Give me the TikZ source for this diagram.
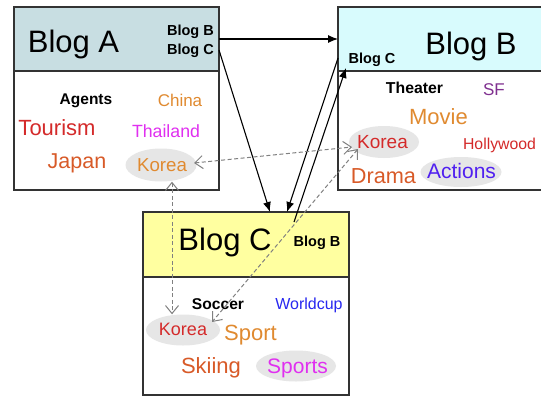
\documentclass[tikz,border=0pt]{standalone}
\usepackage{fontspec}
\setmainfont{Liberation Sans}
\usetikzlibrary{shapes.geometric,arrows.meta,calc}
\definecolor{hdrA}{HTML}{C8DEE2}
\definecolor{hdrB}{HTML}{D8FBFD}
\definecolor{hdrC}{HTML}{FFFFA0}
\definecolor{corange}{HTML}{E08A30}
\definecolor{cred}{HTML}{D42A2A}
\definecolor{cmag}{HTML}{E030F0}
\definecolor{credor}{HTML}{D85A28}
\definecolor{cpurple}{HTML}{803090}
\definecolor{cviolet}{HTML}{5020F0}
\definecolor{cblue}{HTML}{2828F0}
\definecolor{cbubble}{HTML}{E6E6E6}
\definecolor{cdash}{HTML}{808080}
\definecolor{cborder}{HTML}{333333}
\tikzset{
  boxpart/.style={draw=cborder, line width=1.3pt, inner sep=0pt, outer sep=0pt, rectangle},
  title/.style={anchor=base, inner sep=0pt, font=\fontsize{31}{31}\selectfont},
  tag/.style={inner sep=0pt, font=\fontsize{14.5}{14.5}\selectfont\bfseries},
  word/.style={anchor=base, inner sep=0pt},
  bubble/.style={ellipse, fill=cbubble, draw=none, inner sep=0pt},
  link/.style={draw=black, line width=1.1pt, -{Latex[length=10pt,width=8pt]}},
  rel/.style={draw=cdash, line width=1pt, dash pattern=on 4pt off 2.5pt,
              {Straight Barb[length=8pt,width=13pt]}-{Straight Barb[length=8pt,width=13pt]}}
}
\begin{document}
\begin{tikzpicture}[x=1pt,y=-1pt]
\useasboundingbox (0,0) rectangle (541,397);
\fill[white] (0,0) rectangle (541,397);

% ---- Blog A ----
\node[boxpart, fill=hdrA, minimum width=205pt, minimum height=64pt] (hA) at (116.5,39) {};
\node[boxpart, fill=white, minimum width=205pt, minimum height=119pt] (bA) at (116.5,130.5) {};
% ---- Blog B ----
\node[boxpart, fill=hdrB, minimum width=207pt, minimum height=64pt] (hB) at (441.5,39) {};
\node[boxpart, fill=white, minimum width=207pt, minimum height=119pt] (bB) at (441.5,130.5) {};
% ---- Blog C ----
\node[boxpart, fill=hdrC, minimum width=206pt, minimum height=65pt] (hC) at (246,244.5) {};
\node[boxpart, fill=white, minimum width=206pt, minimum height=118pt] (bC) at (246,336) {};

% bubbles
\node[bubble, minimum width=71pt, minimum height=33pt] (eA) at (161,165) {};
\node[bubble, minimum width=70pt, minimum height=32pt] (eB) at (384,142) {};
\node[bubble, minimum width=81pt, minimum height=30pt] (eB2) at (461,172) {};
\node[bubble, minimum width=74pt, minimum height=31pt] (eC) at (183,330) {};
\node[bubble, minimum width=80pt, minimum height=31pt] (eC2) at (296,366) {};

% titles
\node[title] (tA) at (73.5,52) {Blog A};
\node[title] (tB) at (471,54) {Blog B};
\node[title] (tC) at (225,250) {Blog C};

% tags
\node[tag, anchor=base east] (aB) at (214,35) {Blog B};
\node[tag, anchor=base east] (aC) at (214,54) {Blog C};
\node[tag, anchor=base] (bCt) at (372,63) {Blog C};
\node[tag, anchor=base] (cBt) at (317,246) {Blog B};

% words in Blog A
\node[word, font=\fontsize{15.5}{15.5}\selectfont\bfseries] (wAg) at (86,104) {Agents};
\node[word, font=\fontsize{17}{17}\selectfont, text=corange] (wCh) at (180,106) {China};
\node[word, font=\fontsize{22}{22}\selectfont, text=cred] (wTo) at (57,135) {Tourism};
\node[word, font=\fontsize{17.7}{17.7}\selectfont, text=cmag] (wTh) at (166,137) {Thailand};
\node[word, font=\fontsize{21.5}{21.5}\selectfont, text=credor] (wJa) at (77,168) {Japan};
\node[word, font=\fontsize{18.7}{18.7}\selectfont, text=corange] (wKA) at (162,171) {Korea};

% words in Blog B
\node[word, font=\fontsize{15.8}{15.8}\selectfont\bfseries] (wThe) at (414.5,93) {Theater};
\node[word, font=\fontsize{17}{17}\selectfont, text=cpurple] (wSF) at (494,95) {SF};
\node[word, font=\fontsize{22}{22}\selectfont, text=corange] (wMo) at (438.5,124) {Movie};
\node[word, font=\fontsize{19}{19}\selectfont, text=cred] (wKB) at (382.5,148) {Korea};
\node[word, font=\fontsize{15.8}{15.8}\selectfont, text=cred] (wHo) at (499.5,149) {Hollywood};
\node[word, font=\fontsize{21.7}{21.7}\selectfont, text=credor] (wDr) at (383.5,183) {Drama};
\node[word, font=\fontsize{21}{21}\selectfont, text=cviolet] (wAc) at (461.5,178) {Actions};

% words in Blog C
\node[word, font=\fontsize{15.6}{15.6}\selectfont\bfseries] (wSo) at (218,309) {Soccer};
\node[word, font=\fontsize{16}{16}\selectfont, text=cblue] (wWo) at (309,309) {Worldcup};
\node[word, font=\fontsize{18}{18}\selectfont, text=cred] (wKC) at (183,335) {Korea};
\node[word, font=\fontsize{22}{22}\selectfont, text=corange] (wSp) at (250.5,340) {Sport};
\node[word, font=\fontsize{22}{22}\selectfont, text=credor] (wSk) at (211,373) {Skiing};
\node[word, font=\fontsize{21}{21}\selectfont, text=cmag] (wSs) at (297.5,373) {Sports};

% links
\draw[link] (hA.east) -- (hB.west);
\draw[link] ($(hA.east)+(0,11)$) -- ($(hC.north)+(24,0)$);
\draw[link] ($(hB.west)+(0,19)$) -- ($(hC.north)+(41,0)$);
\draw[link] ($(hC.north)+(48,10)$) -- ($(hB.south west)+(8,-3)$);

% relations
\draw[rel] ($(eA.center)+(33,-2)$) -- ($(eB.center)+(-32,5)$);
\draw[rel] ($(eA.south)+(11,0)$) -- ($(eC.north)+(-11,0)$);
\draw[rel] ($(eB.center)+(-26,7)$) -- ($(eC.center)+(29,-8)$);
\end{tikzpicture}
\end{document}
